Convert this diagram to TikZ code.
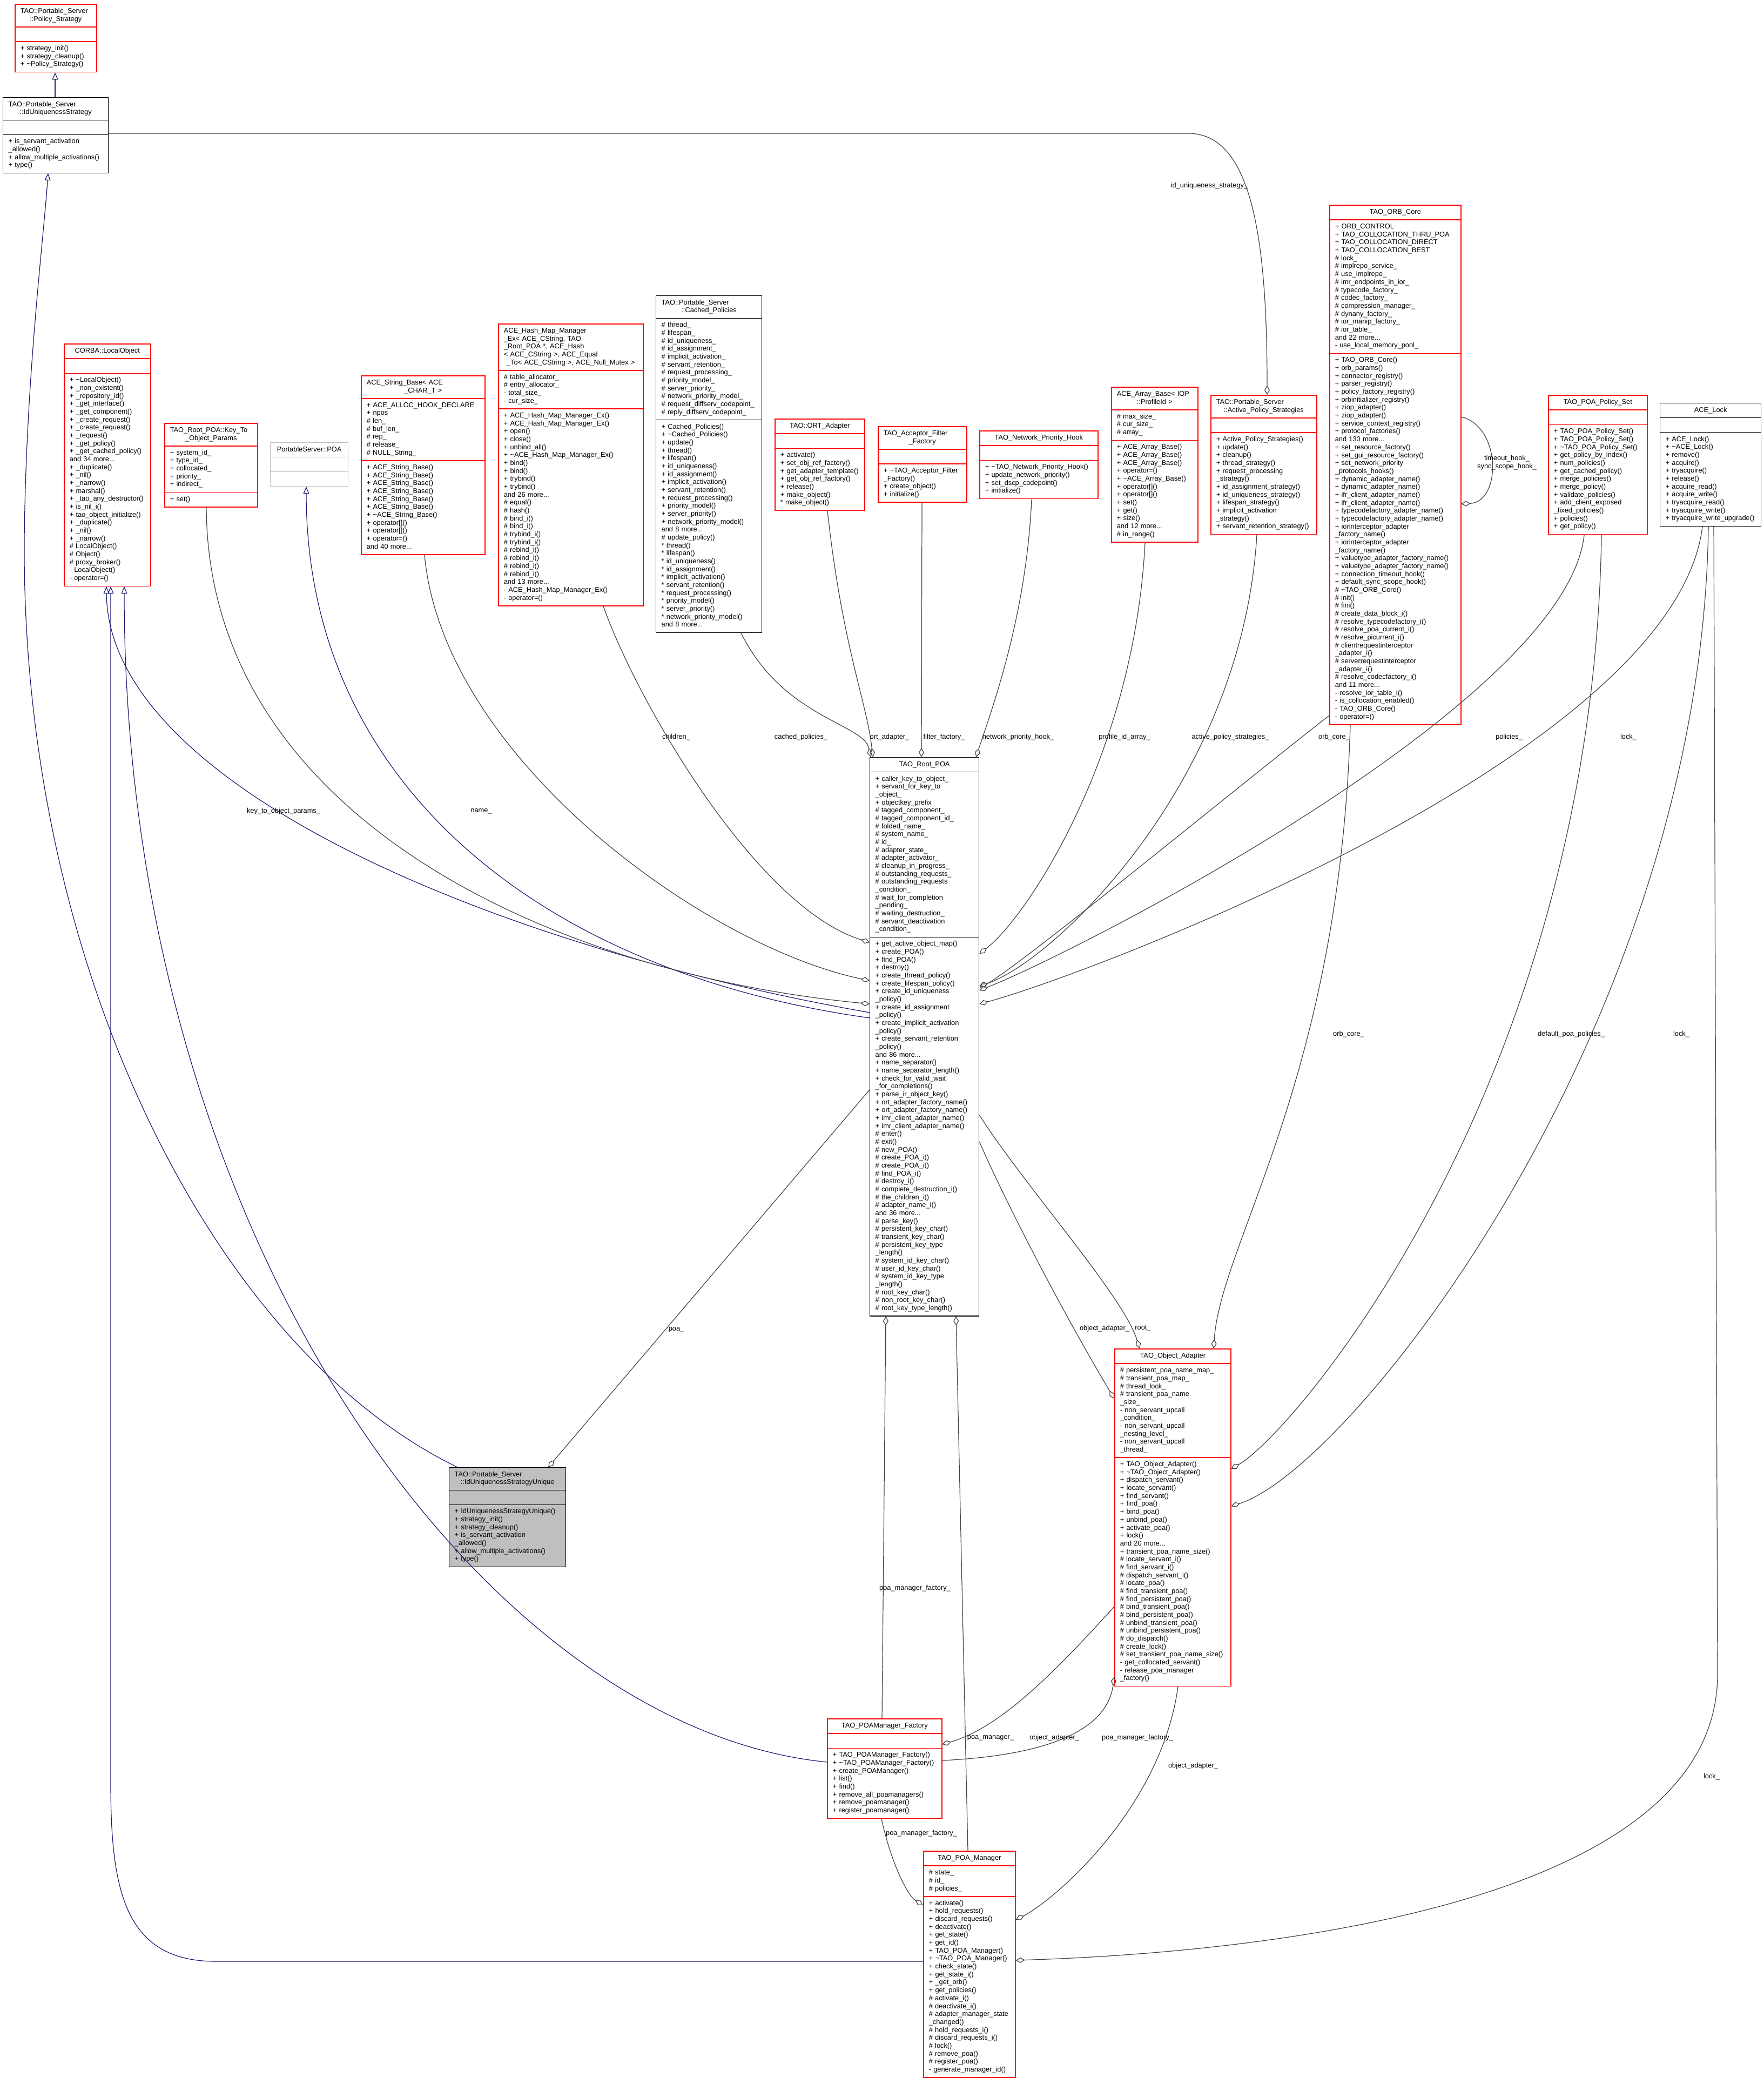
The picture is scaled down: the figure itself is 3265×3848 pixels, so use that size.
\documentclass[tikz,border=0pt]{standalone}
\usepackage{fontspec}
\setmainfont{Liberation Sans}
\usetikzlibrary{arrows.meta,shapes.multipart,calc}
\definecolor{clrR}{RGB}{255,0,0}
\definecolor{clrE}{RGB}{64,64,64}
\definecolor{clrI}{RGB}{25,25,112}
\definecolor{clrU}{RGB}{191,191,191}
% one centred line, full width of the part
\newcommand{\ctr}[1]{\hbox to\linewidth{\hss\strut#1\hss}}
% header: all lines flush left but the last, which is centred
\newcommand{\hd}[2]{\leftskip=5pt\relax\strut#1\par\leftskip=0pt\relax\noindent\ctr{#2}\par}
\newcommand{\hdc}[1]{\ctr{#1}\par}
\newcommand{\mb}[1]{\leftskip=5pt\relax\strut#1\strut\par}
\newcommand{\tld}{\textasciitilde}
\tikzset{
  cls/.style={rectangle split, rectangle split parts=3, draw, line width=1.3pt,
    inner xsep=5pt, inner ysep=5.5pt, anchor=north west, align=left,
    font=\fontsize{12.8}{14.67}\selectfont},
  rbox/.style={cls, draw=clrR, line width=1.6pt, text width=#1},
  kbox/.style={cls, draw=black, text width=#1},
  agg/.style={draw=clrE, line width=1.2pt, -{Diamond[open,length=17pt,width=10pt]}},
  inh/.style={draw=clrI, line width=1.2pt, -{Triangle[open,length=13pt,width=11pt]}},
  lbl/.style={font=\fontsize{12.8}{14.67}\selectfont, inner sep=0pt, align=center}
}
\begin{document}
\catcode`\_=12\relax
\begin{tikzpicture}[x=1pt,y=1pt]
  \path[fill=white,use as bounding box] (0,0) rectangle (3265,-3848);

  % strategies, top left
  \node[rbox=141pt] (polstr) at (27,-7) {\hd{TAO::Portable_Server}{::Policy_Strategy}
    \nodepart{two}\strut
    \nodepart{three}\mb{+ strategy_init()\\+ strategy_cleanup()\\+ \tld Policy_Strategy()}};
  \node[kbox=185pt] (idustr) at (5,-180) {\hd{TAO::Portable_Server}{::IdUniquenessStrategy}
    \nodepart{two}\strut
    \nodepart{three}\mb{+ is_servant_activation\\_allowed()\\+ allow_multiple_activations()\\+ type()}};

  % row of member classes
  \node[rbox=150pt] (locobj) at (118,-636) {\hdc{CORBA::LocalObject}
    \nodepart{two}\strut
    \nodepart{three}\mb{+ \tld LocalObject()\\+ _non_existent()\\+ _repository_id()\\+ _get_interface()\\+ _get_component()\\+ _create_request()\\+ _create_request()\\+ _request()\\+ _get_policy()\\+ _get_cached_policy()\\and 34 more...\\+ _duplicate()\\+ _nil()\\+ _narrow()\\+ marshal()\\+ _tao_any_destructor()\\+ is_nil_i()\\+ tao_object_initialize()\\+ _duplicate()\\+ _nil()\\+ _narrow()\\\# LocalObject()\\\# Object()\\\# proxy_broker()\\- LocalObject()\\- operator=()}};
  \node[rbox=162pt] (ktop) at (304,-783) {\hd{TAO_Root_POA::Key_To}{_Object_Params}
    \nodepart{two}\mb{+ system_id_\\+ type_id_\\+ collocated_\\+ priority_\\+ indirect_}
    \nodepart{three}\mb{+ set()}};
  \node[cls, draw=clrU, text width=134pt] (pspoa) at (500,-819) {\hdc{PortableServer::POA}
    \nodepart{two}\strut
    \nodepart{three}\strut};
  \node[rbox=219pt] (strbase) at (668,-695) {\hd{ACE_String_Base< ACE}{_CHAR_T >}
    \nodepart{two}\mb{+ ACE_ALLOC_HOOK_DECLARE\\+ npos\\\# len_\\\# buf_len_\\\# rep_\\\# release_\\\# NULL_String_}
    \nodepart{three}\mb{+ ACE_String_Base()\\+ ACE_String_Base()\\+ ACE_String_Base()\\+ ACE_String_Base()\\+ ACE_String_Base()\\+ ACE_String_Base()\\+ \tld ACE_String_Base()\\+ operator[]()\\+ operator[]()\\+ operator=()\\and 40 more...}};
  \node[rbox=258pt] (hashmap) at (922,-599) {\hd{ACE_Hash_Map_Manager\\_Ex< ACE_CString, TAO\\_Root_POA *, ACE_Hash\\< ACE_CString >, ACE_Equal}{_To< ACE_CString >, ACE_Null_Mutex >}
    \nodepart{two}\mb{\# table_allocator_\\\# entry_allocator_\\- total_size_\\- cur_size_}
    \nodepart{three}\mb{+ ACE_Hash_Map_Manager_Ex()\\+ ACE_Hash_Map_Manager_Ex()\\+ open()\\+ close()\\+ unbind_all()\\+ \tld ACE_Hash_Map_Manager_Ex()\\+ bind()\\+ bind()\\+ trybind()\\+ trybind()\\and 26 more...\\\# equal()\\\# hash()\\\# bind_i()\\\# bind_i()\\\# trybind_i()\\\# trybind_i()\\\# rebind_i()\\\# rebind_i()\\\# rebind_i()\\\# rebind_i()\\and 13 more...\\- ACE_Hash_Map_Manager_Ex()\\- operator=()}};
  \node[kbox=186pt] (cached) at (1214,-547) {\hd{TAO::Portable_Server}{::Cached_Policies}
    \nodepart{two}\mb{\# thread_\\\# lifespan_\\\# id_uniqueness_\\\# id_assignment_\\\# implicit_activation_\\\# servant_retention_\\\# request_processing_\\\# priority_model_\\\# server_priority_\\\# network_priority_model_\\\# request_diffserv_codepoint_\\\# reply_diffserv_codepoint_}
    \nodepart{three}\mb{+ Cached_Policies()\\+ \tld Cached_Policies()\\+ update()\\+ thread()\\+ lifespan()\\+ id_uniqueness()\\+ id_assignment()\\+ implicit_activation()\\+ servant_retention()\\+ request_processing()\\+ priority_model()\\+ server_priority()\\+ network_priority_model()\\and 8 more...\\\# update_policy()\\{}* thread()\\{}* lifespan()\\{}* id_uniqueness()\\{}* id_assignment()\\{}* implicit_activation()\\{}* servant_retention()\\{}* request_processing()\\{}* priority_model()\\{}* server_priority()\\{}* network_priority_model()\\and 8 more...}};
  \node[rbox=156pt] (ortad) at (1434,-775) {\hdc{TAO::ORT_Adapter}
    \nodepart{two}\strut
    \nodepart{three}\mb{+ activate()\\+ set_obj_ref_factory()\\+ get_adapter_template()\\+ get_obj_ref_factory()\\+ release()\\+ make_object()\\{}* make_object()}};
  \node[rbox=154pt] (accf) at (1625,-789) {\hd{TAO_Acceptor_Filter}{_Factory}
    \nodepart{two}\strut
    \nodepart{three}\mb{+ \tld TAO_Acceptor_Filter\\_Factory()\\+ create_object()\\+ initialize()}};
  \node[rbox=209pt] (nethook) at (1813,-797) {\hdc{TAO_Network_Priority_Hook}
    \nodepart{two}\strut
    \nodepart{three}\mb{+ \tld TAO_Network_Priority_Hook()\\+ update_network_priority()\\+ set_dscp_codepoint()\\+ initialize()}};
  \node[rbox=150pt] (arrbase) at (2057,-716) {\hd{ACE_Array_Base< IOP}{::ProfileId >}
    \nodepart{two}\mb{\# max_size_\\\# cur_size_\\\# array_}
    \nodepart{three}\mb{+ ACE_Array_Base()\\+ ACE_Array_Base()\\+ ACE_Array_Base()\\+ operator=()\\+ \tld ACE_Array_Base()\\+ operator[]()\\+ operator[]()\\+ set()\\+ get()\\+ size()\\and 12 more...\\\# in_range()}};
  \node[rbox=186pt] (actpol) at (2241,-731) {\hd{TAO::Portable_Server}{::Active_Policy_Strategies}
    \nodepart{two}\strut
    \nodepart{three}\mb{+ Active_Policy_Strategies()\\+ update()\\+ cleanup()\\+ thread_strategy()\\+ request_processing\\_strategy()\\+ id_assignment_strategy()\\+ id_uniqueness_strategy()\\+ lifespan_strategy()\\+ implicit_activation\\_strategy()\\+ servant_retention_strategy()}};
  \node[rbox=233pt] (orbcore) at (2461,-379) {\hdc{TAO_ORB_Core}
    \nodepart{two}\mb{+ ORB_CONTROL\\+ TAO_COLLOCATION_THRU_POA\\+ TAO_COLLOCATION_DIRECT\\+ TAO_COLLOCATION_BEST\\\# lock_\\\# implrepo_service_\\\# use_implrepo_\\\# imr_endpoints_in_ior_\\\# typecode_factory_\\\# codec_factory_\\\# compression_manager_\\\# dynany_factory_\\\# ior_manip_factory_\\\# ior_table_\\and 22 more...\\- use_local_memory_pool_}
    \nodepart{three}\mb{+ TAO_ORB_Core()\\+ orb_params()\\+ connector_registry()\\+ parser_registry()\\+ policy_factory_registry()\\+ orbinitializer_registry()\\+ ziop_adapter()\\+ ziop_adapter()\\+ service_context_registry()\\+ protocol_factories()\\and 130 more...\\+ set_resource_factory()\\+ set_gui_resource_factory()\\+ set_network_priority\\_protocols_hooks()\\+ dynamic_adapter_name()\\+ dynamic_adapter_name()\\+ ifr_client_adapter_name()\\+ ifr_client_adapter_name()\\+ typecodefactory_adapter_name()\\+ typecodefactory_adapter_name()\\+ iorinterceptor_adapter\\_factory_name()\\+ iorinterceptor_adapter\\_factory_name()\\+ valuetype_adapter_factory_name()\\+ valuetype_adapter_factory_name()\\+ connection_timeout_hook()\\+ default_sync_scope_hook()\\\# \tld TAO_ORB_Core()\\\# init()\\\# fini()\\\# create_data_block_i()\\\# resolve_typecodefactory_i()\\\# resolve_poa_current_i()\\\# resolve_picurrent_i()\\\# clientrequestinterceptor\\_adapter_i()\\\# serverrequestinterceptor\\_adapter_i()\\\# resolve_codecfactory_i()\\and 11 more...\\- resolve_ior_table_i()\\- is_collocation_enabled()\\- TAO_ORB_Core()\\- operator=()}};
  \node[rbox=173pt] (polset) at (2866,-731) {\hdc{TAO_POA_Policy_Set}
    \nodepart{two}\strut
    \nodepart{three}\mb{+ TAO_POA_Policy_Set()\\+ TAO_POA_Policy_Set()\\+ \tld TAO_POA_Policy_Set()\\+ get_policy_by_index()\\+ num_policies()\\+ get_cached_policy()\\+ merge_policies()\\+ merge_policy()\\+ validate_policies()\\+ add_client_exposed\\_fixed_policies()\\+ policies()\\+ get_policy()}};
  \node[kbox=177pt] (acelock) at (3073,-746) {\hdc{ACE_Lock}
    \nodepart{two}\strut
    \nodepart{three}\mb{+ ACE_Lock()\\+ \tld ACE_Lock()\\+ remove()\\+ acquire()\\+ tryacquire()\\+ release()\\+ acquire_read()\\+ acquire_write()\\+ tryacquire_read()\\+ tryacquire_write()\\+ tryacquire_write_upgrade()}};

  % central class and its partners
  \node[kbox=192pt] (rootpoa) at (1610,-1402) {\hdc{TAO_Root_POA}
    \nodepart{two}\mb{+ caller_key_to_object_\\+ servant_for_key_to\\_object_\\+ objectkey_prefix\\\# tagged_component_\\\# tagged_component_id_\\\# folded_name_\\\# system_name_\\\# id_\\\# adapter_state_\\\# adapter_activator_\\\# cleanup_in_progress_\\\# outstanding_requests_\\\# outstanding_requests\\_condition_\\\# wait_for_completion\\_pending_\\\# waiting_destruction_\\\# servant_deactivation\\_condition_}
    \nodepart{three}\mb{+ get_active_object_map()\\+ create_POA()\\+ find_POA()\\+ destroy()\\+ create_thread_policy()\\+ create_lifespan_policy()\\+ create_id_uniqueness\\_policy()\\+ create_id_assignment\\_policy()\\+ create_implicit_activation\\_policy()\\+ create_servant_retention\\_policy()\\and 86 more...\\+ name_separator()\\+ name_separator_length()\\+ check_for_valid_wait\\_for_completions()\\+ parse_ir_object_key()\\+ ort_adapter_factory_name()\\+ ort_adapter_factory_name()\\+ imr_client_adapter_name()\\+ imr_client_adapter_name()\\\# enter()\\\# exit()\\\# new_POA()\\\# create_POA_i()\\\# create_POA_i()\\\# find_POA_i()\\\# destroy_i()\\\# complete_destruction_i()\\\# the_children_i()\\\# adapter_name_i()\\and 36 more...\\\# parse_key()\\\# persistent_key_char()\\\# transient_key_char()\\\# persistent_key_type\\_length()\\\# system_id_key_char()\\\# user_id_key_char()\\\# system_id_key_type\\_length()\\\# root_key_char()\\\# non_root_key_char()\\\# root_key_type_length()}};
  \node[rbox=205pt] (objad) at (2063,-2497) {\hdc{TAO_Object_Adapter}
    \nodepart{two}\mb{\# persistent_poa_name_map_\\\# transient_poa_map_\\\# thread_lock_\\\# transient_poa_name\\_size_\\- non_servant_upcall\\_condition_\\- non_servant_upcall\\_nesting_level_\\- non_servant_upcall\\_thread_}
    \nodepart{three}\mb{+ TAO_Object_Adapter()\\+ \tld TAO_Object_Adapter()\\+ dispatch_servant()\\+ locate_servant()\\+ find_servant()\\+ find_poa()\\+ bind_poa()\\+ unbind_poa()\\+ activate_poa()\\+ lock()\\and 20 more...\\+ transient_poa_name_size()\\\# locate_servant_i()\\\# find_servant_i()\\\# dispatch_servant_i()\\\# locate_poa()\\\# find_transient_poa()\\\# find_persistent_poa()\\\# bind_transient_poa()\\\# bind_persistent_poa()\\\# unbind_transient_poa()\\\# unbind_persistent_poa()\\\# do_dispatch()\\\# create_lock()\\\# set_transient_poa_name_size()\\- get_collocated_servant()\\- release_poa_manager\\_factory()}};
  \node[kbox=206pt, fill=clrU] (idsuniq) at (831,-2717) {\hd{TAO::Portable_Server}{::IdUniquenessStrategyUnique}
    \nodepart{two}\strut
    \nodepart{three}\mb{+ IdUniquenessStrategyUnique()\\+ strategy_init()\\+ strategy_cleanup()\\+ is_servant_activation\\_allowed()\\+ allow_multiple_activations()\\+ type()}};
  \node[rbox=202pt] (pmfact) at (1531,-3182) {\hdc{TAO_POAManager_Factory}
    \nodepart{two}\strut
    \nodepart{three}\mb{+ TAO_POAManager_Factory()\\+ \tld TAO_POAManager_Factory()\\+ create_POAManager()\\+ list()\\+ find()\\+ remove_all_poamanagers()\\+ remove_poamanager()\\+ register_poamanager()}};
  \node[rbox=160pt] (poamgr) at (1709,-3427) {\hdc{TAO_POA_Manager}
    \nodepart{two}\mb{\# state_\\\# id_\\\# policies_}
    \nodepart{three}\mb{+ activate()\\+ hold_requests()\\+ discard_requests()\\+ deactivate()\\+ get_state()\\+ get_id()\\+ TAO_POA_Manager()\\+ \tld TAO_POA_Manager()\\+ check_state()\\+ get_state_i()\\+ _get_orb()\\+ get_policies()\\\# activate_i()\\\# deactivate_i()\\\# adapter_manager_state\\_changed()\\\# hold_requests_i()\\\# discard_requests_i()\\\# lock()\\\# remove_poa()\\\# register_poa()\\- generate_manager_id()}};

  % inheritance
  \draw[inh] ([xshift=97pt]idustr.north west) -- ([xshift=75pt]polstr.south west);
  \draw[inh] ([xshift=16pt]idsuniq.north west) .. controls (400,-2500) and (40,-1800) .. (45,-1000)
    .. controls (48,-700) and (80,-450) .. ([xshift=84pt]idustr.south west);
  \draw[inh] ([yshift=-473pt]rootpoa.north west) .. controls (900,-1750) and (200,-1450) .. ([xshift=79pt]locobj.south west);
  \draw[inh] ([yshift=-483pt]rootpoa.north west) .. controls (1000,-1800) and (567,-1450) .. ([xshift=67pt]pspoa.south west);
  \draw[inh] ([yshift=-81pt]pmfact.north west) .. controls (900,-3200) and (230,-2300) .. ([xshift=112pt]locobj.south west);
  \draw[inh] ([yshift=-205pt]poamgr.north west) -- (400,-3632) .. controls (230,-3632) and (205,-3500) .. (205,-3300)
    -- ([xshift=87pt]locobj.south west);

  % members of TAO_Root_POA
  \draw[agg] ([xshift=78pt]ktop.south west) .. controls (385,-1500) and (1000,-1800) .. ([yshift=-457pt]rootpoa.north west);
  \draw[agg] ([xshift=118pt]strbase.south west) .. controls (820,-1400) and (1300,-1750) .. ([yshift=-414pt]rootpoa.north west);
  \draw[agg] ([xshift=195pt]hashmap.south west) .. controls (1180,-1300) and (1400,-1680) .. ([yshift=-343pt]rootpoa.north west);
  \draw[agg] ([xshift=158pt]cached.south west) .. controls (1450,-1330) and (1600,-1340) .. ([xshift=2pt]rootpoa.north west);
  \draw[agg] ([xshift=98pt]ortad.south west) .. controls (1560,-1200) and (1605,-1300) .. ([xshift=6pt]rootpoa.north west);
  \draw[agg] ([xshift=82pt]accf.south west) -- ([xshift=96pt]rootpoa.north west);
  \draw[agg] ([xshift=97pt]nethook.south west) .. controls (1900,-1150) and (1830,-1330) .. ([xshift=-6pt]rootpoa.north east);
  \draw[agg] ([xshift=63pt]arrbase.south west) .. controls (2100,-1400) and (1900,-1700) .. ([yshift=-364pt]rootpoa.north east);
  \draw[agg] ([xshift=86pt]actpol.south west) .. controls (2300,-1450) and (1950,-1780) .. ([yshift=-424pt]rootpoa.north east);
  \draw[agg] ([yshift=-946pt]orbcore.north west) .. controls (2300,-1450) and (1900,-1780) .. ([yshift=-428pt]rootpoa.north east);
  \draw[agg] ([xshift=67pt]polset.south west) .. controls (2900,-1300) and (2000,-1760) .. ([yshift=-432pt]rootpoa.north east);
  \draw[agg] ([xshift=79pt]acelock.south west) .. controls (3100,-1400) and (2000,-1810) .. ([yshift=-457pt]rootpoa.north east);
  \draw[agg] ([yshift=-712pt]rootpoa.north east) .. controls (1850,-2200) and (1950,-2400) .. ([yshift=-93pt]objad.north west);
  \draw[agg] ([xshift=102pt]pmfact.north west) -- ([xshift=30pt]rootpoa.south west);
  \draw[agg] ([xshift=83pt]poamgr.north west) -- ([xshift=160pt]rootpoa.south west);

  % other members
  \draw[agg] ([yshift=-67pt]idustr.north east) -- (2200,-247) .. controls (2320,-247) and (2346,-450) .. ([xshift=105pt]actpol.north west);
  \draw[agg] ([yshift=-393pt]orbcore.north east) .. controls (2780,-790) and (2780,-930) .. ([yshift=-554pt]orbcore.north east);
  \draw[agg] ([xshift=39pt]orbcore.south west) .. controls (2480,-2000) and (2260,-2300) .. ([xshift=184pt]objad.north west);
  \draw[agg] ([xshift=99pt]polset.south west) .. controls (2950,-2000) and (2400,-2650) .. ([yshift=-223pt]objad.north east);
  \draw[agg] ([xshift=90pt]acelock.south west) .. controls (3150,-1900) and (2500,-2720) .. ([yshift=-292pt]objad.north east);
  \draw[agg] ([xshift=100pt]acelock.south west) -- (3180,-3100) .. controls (3180,-3560) and (2200,-3620) .. ([yshift=-203pt]poamgr.north east);
  \draw[agg] ([yshift=-663pt]rootpoa.north east) .. controls (1900,-2200) and (2080,-2400) .. ([xshift=47pt]objad.north west);
  \draw[agg] ([yshift=-616pt]rootpoa.north west) -- ([xshift=184pt]idsuniq.north west);
  \draw[agg] ([yshift=-478pt]objad.north west) .. controls (1950,-3100) and (1850,-3200) .. ([yshift=-48pt]pmfact.north east);
  \draw[agg] ([yshift=-78pt]pmfact.north east) .. controls (1950,-3250) and (2050,-3200) .. ([yshift=-608pt]objad.north west);
  \draw[agg] ([xshift=118pt]objad.south west) .. controls (2150,-3350) and (1950,-3520) .. ([yshift=-128pt]poamgr.north east);
  \draw[agg] ([xshift=101pt]pmfact.south west) .. controls (1650,-3450) and (1680,-3510) .. ([yshift=-101pt]poamgr.north west);

  % edge labels
  \node[lbl] (lidu) at (2239,-344) {id_uniqueness_strategy_};
  \node[lbl] (lkto) at (525,-1502) {key_to_object_params_};
  \node[lbl] (lname) at (891,-1502) {name_};
  \node[lbl] (lchild) at (1252,-1365) {children_};
  \node[lbl] (lcach) at (1483,-1365) {cached_policies_};
  \node[lbl] (lort) at (1647,-1365) {ort_adapter_};
  \node[lbl] (lfilt) at (1748,-1365) {filter_factory_};
  \node[lbl] (lnet) at (1885,-1365) {network_priority_hook_};
  \node[lbl] (lprof) at (2082,-1365) {profile_id_array_};
  \node[lbl] (lact) at (2278,-1365) {active_policy_strategies_};
  \node[lbl] (lorb) at (2470,-1365) {orb_core_};
  \node[lbl] (lpol) at (2794,-1365) {policies_};
  \node[lbl] (llock) at (3015,-1365) {lock_};
  \node[lbl] (lhook) at (2790,-857) {timeout_hook_\\sync_scope_hook_};
  \node[lbl] (lorbb) at (2497,-1915) {orb_core_};
  \node[lbl] (ldef) at (2909,-1915) {default_poa_policies_};
  \node[lbl] (llockb) at (3113,-1915) {lock_};
  \node[lbl] (lpoa) at (1252,-2462) {poa_};
  \node[lbl] (lobja) at (2045,-2460) {object_adapter_};
  \node[lbl] (lroot) at (2116,-2460) {root_};
  \node[lbl] (lpmfa) at (1694,-2941) {poa_manager_factory_};
  \node[lbl] (lpm) at (1834,-3218) {poa_manager_};
  \node[lbl] (lobjb) at (1952,-3218) {object_adapter_};
  \node[lbl] (lpmfb) at (2106,-3218) {poa_manager_factory_};
  \node[lbl] (lobjc) at (2209,-3270) {object_adapter_};
  \node[lbl] (llockc) at (3169,-3290) {lock_};
  \node[lbl] (lpmfc) at (1706,-3395) {poa_manager_factory_};
\end{tikzpicture}
\end{document}
